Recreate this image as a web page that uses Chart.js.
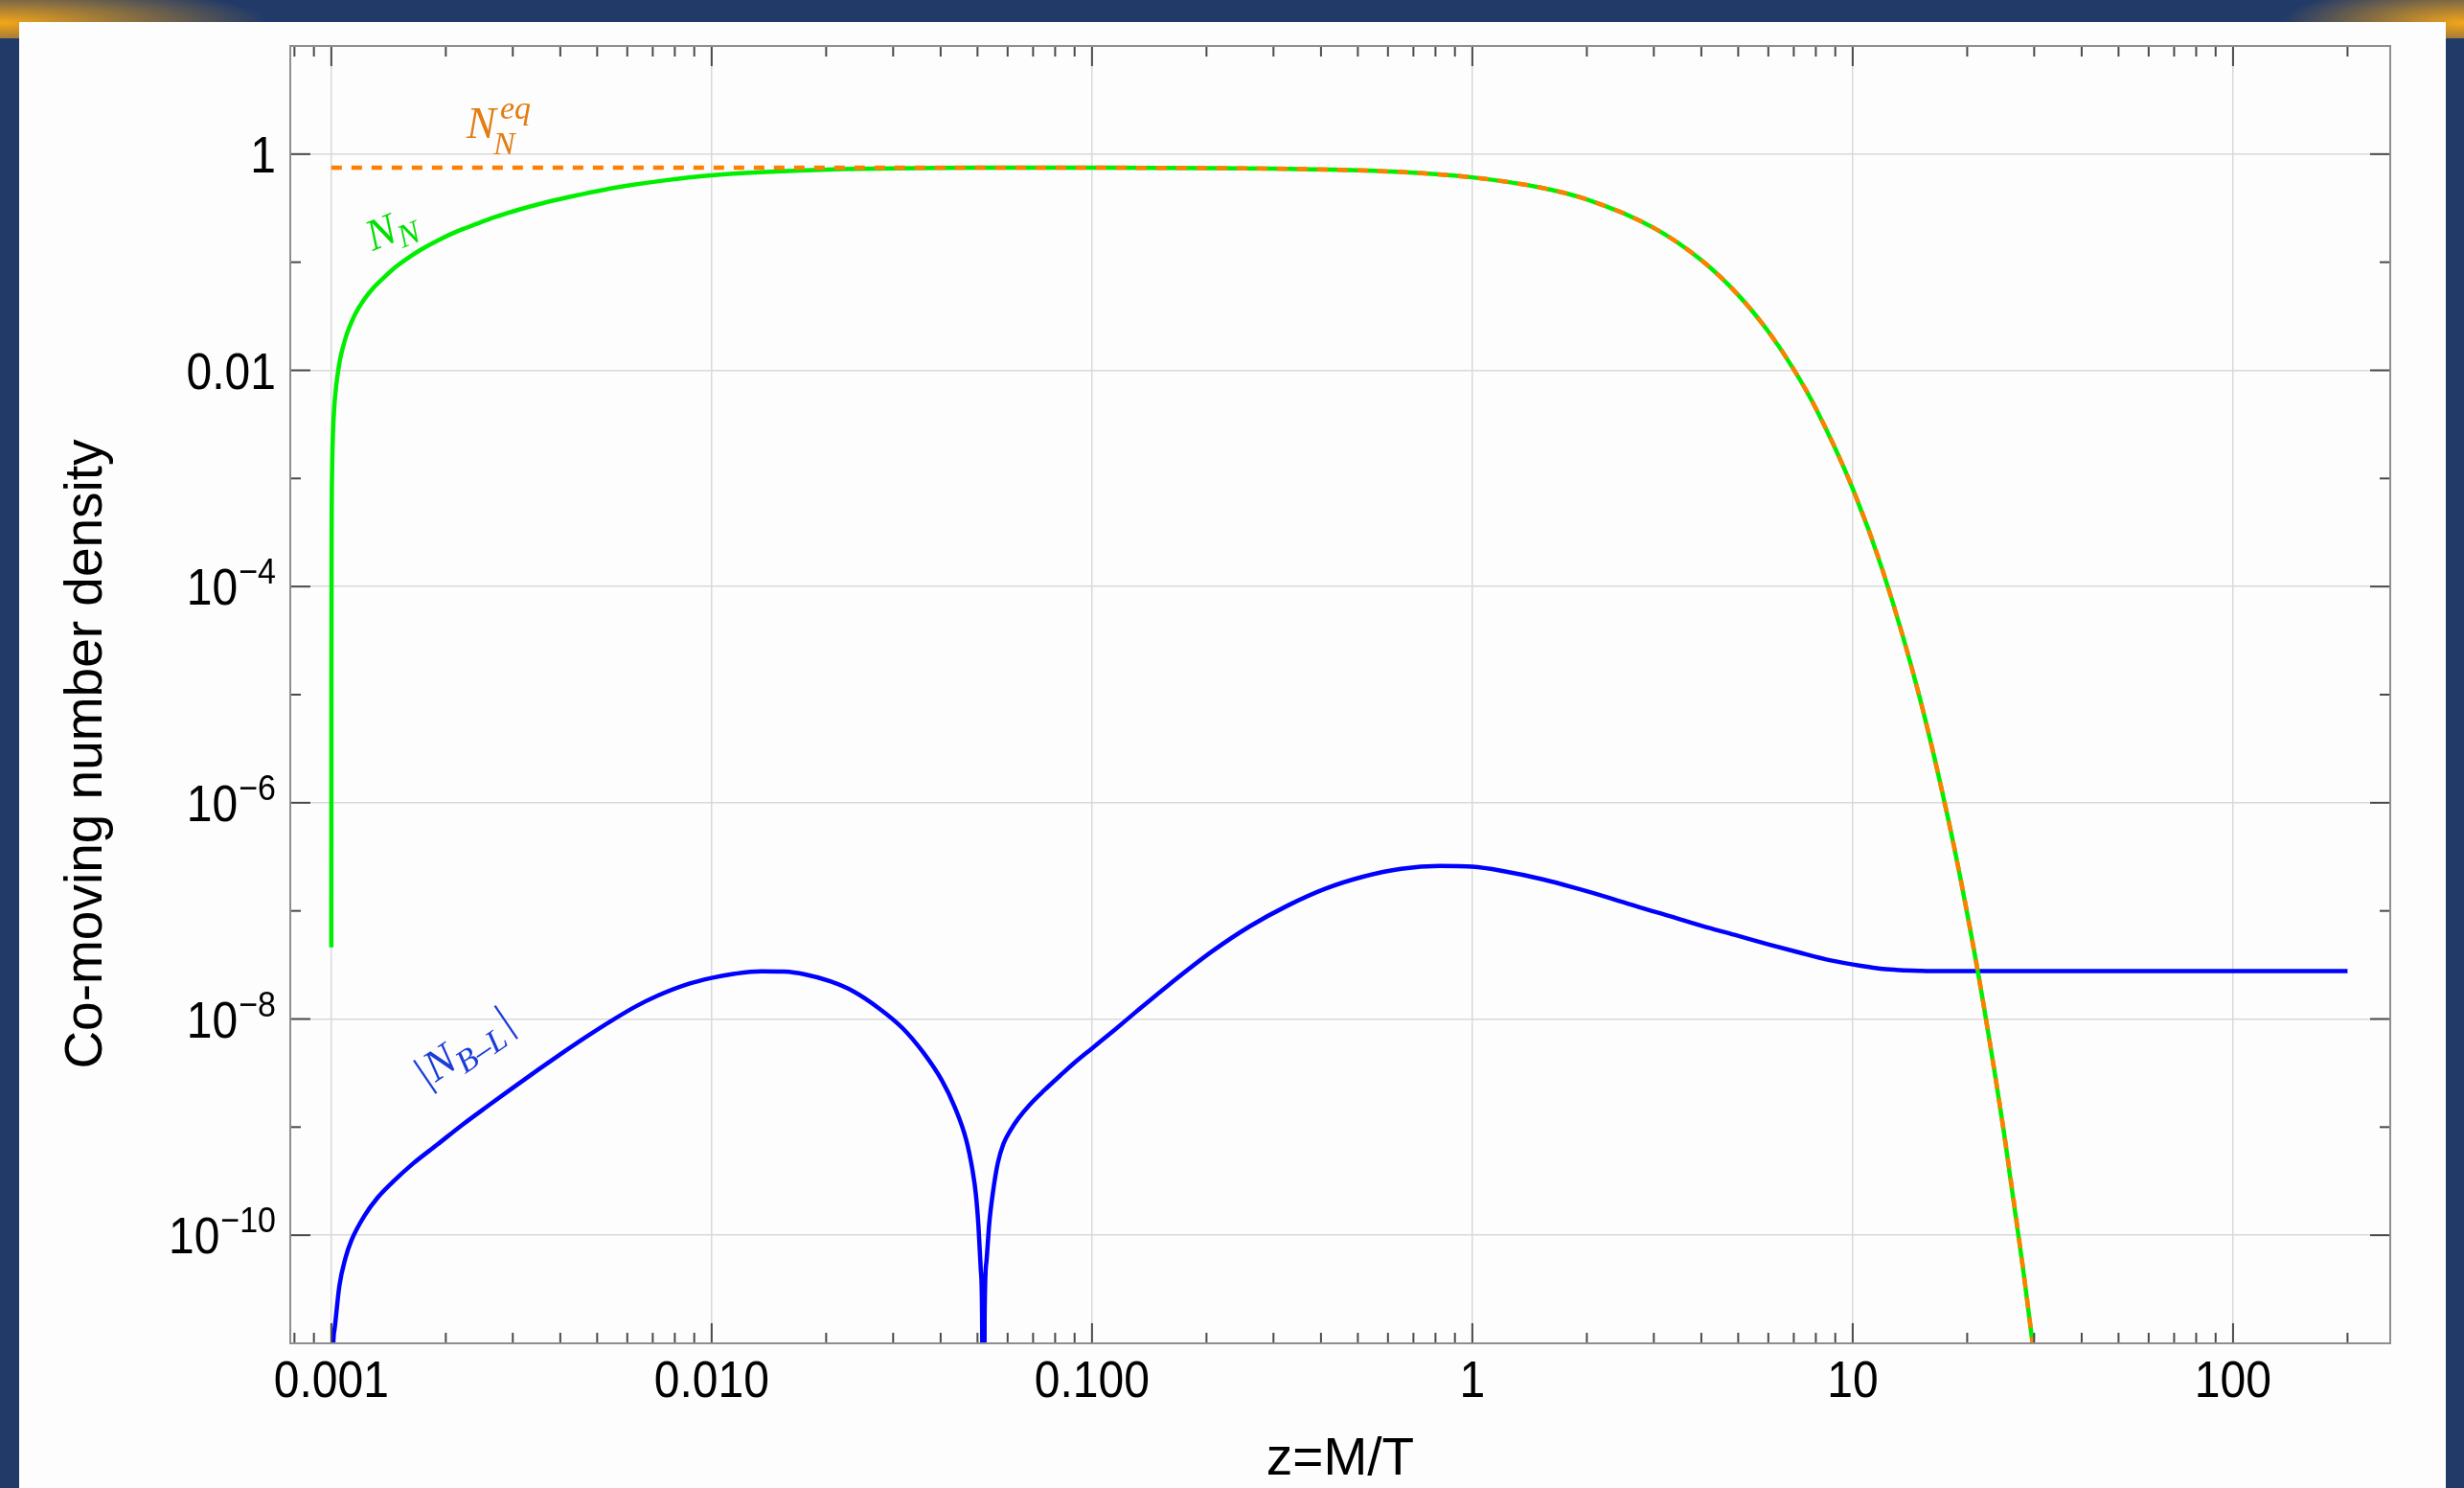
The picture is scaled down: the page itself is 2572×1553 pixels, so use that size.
<!DOCTYPE html>
<html>
<head>
<meta charset="utf-8">
<script src="https://cdn.jsdelivr.net/npm/chart.js@4.4.1/dist/chart.umd.min.js"></script>
<style>
  html, body { margin: 0; padding: 0; }
  body { width: 2572px; height: 1553px; overflow: hidden; position: relative; background: #223a68; }
  #glow {
    position: absolute; left: 0; top: 0; width: 2572px; height: 40px;
    background:
      radial-gradient(ellipse 280px 42px at 0px 24px, rgba(244,166,24,1) 0%, rgba(244,166,24,0.75) 25%, rgba(244,166,24,0) 100%),
      radial-gradient(ellipse 190px 42px at 2572px 24px, rgba(244,166,24,1) 0%, rgba(244,166,24,0.75) 25%, rgba(244,166,24,0) 100%);
  }
  #panel { position: absolute; left: 20px; top: 23px; width: 2533px; height: 1560px; background: #fdfdfd; }
  #plot { position: absolute; left: 0; top: 0; }
</style>
</head>
<body>
<div id="glow"></div>
<div id="panel"></div>
<canvas id="plot" width="2572" height="1553"></canvas>
<script>
// equilibrium abundance N_N^eq (orange dashed)
const zEq = [0.001, 0.01, 0.05, 0.1, 0.2, 0.3, 0.5, 0.7, 1, 1.5, 2, 3, 4, 5, 6, 7, 8, 10, 12, 15, 18, 20, 22, 25, 28, 30, 32];
const nEq = [0.75, 0.75, 0.7495, 0.7481, 0.7427, 0.734, 0.708, 0.673, 0.609, 0.4925, 0.3806, 0.2076, 0.1044, 0.04977, 0.02284,
  0.01019, 0.004448, 8.066e-4, 1.395e-4, 9.426e-6, 6.049e-7, 9.494e-8, 1.470e-8, 8.781e-10, 5.142e-11, 7.685e-12, 1.141e-12];

// heavy neutrino abundance N_N (green)
const zN = [0.001, 0.0010005, 0.001002, 0.001005, 0.00101, 0.00102, 0.00103, 0.001045, 0.00106, 0.00108, 0.0011, 0.00113,
  0.00116, 0.0012, 0.00125, 0.0013, 0.00138, 0.00148, 0.0016, 0.00173, 0.0019, 0.00215, 0.0024, 0.0027, 0.0031, 0.0036,
  0.0042, 0.005, 0.006, 0.0075, 0.01, 0.013, 0.017, 0.022, 0.03, 0.04, 0.05, 0.07,
  0.1, 0.2, 0.3, 0.5, 0.7, 1, 1.5, 2, 3, 4, 5, 6, 7, 8, 10, 12, 15, 18, 20, 22, 25, 28, 30, 32];
const nN = [4.6e-8, 1e-5, 3e-4, 1.2e-3, 2.6e-3, 5.0e-3, 7.2e-3, 0.0105, 0.0138, 0.0178, 0.022, 0.028,
  0.034, 0.0415, 0.0507, 0.0597, 0.073, 0.091, 0.111, 0.132, 0.158, 0.194, 0.225, 0.262, 0.305, 0.352,
  0.4, 0.455, 0.51, 0.57, 0.635, 0.675, 0.705, 0.725, 0.738, 0.745, 0.748, 0.749,
  0.7481, 0.7427, 0.734, 0.708, 0.673, 0.609, 0.4925, 0.3806, 0.2076, 0.1044, 0.04977, 0.02284, 0.01019, 0.004448,
  8.066e-4, 1.395e-4, 9.426e-6, 6.049e-7, 9.494e-8, 1.470e-8, 8.781e-10, 5.142e-11, 7.685e-12, 1.141e-12];

// lepton asymmetry |N_B-L| (blue)
const zBL = [0.001, 0.001005, 0.00102, 0.00105, 0.00109, 0.00113, 0.00122, 0.00132, 0.00145, 0.00164, 0.0019, 0.00221,
  0.0026, 0.00297, 0.0035, 0.004, 0.0047, 0.0054, 0.0063, 0.0072, 0.0085, 0.01, 0.0115, 0.0135, 0.0155, 0.0176, 0.0205,
  0.0236, 0.0275, 0.0318, 0.036, 0.0403, 0.0435, 0.0467, 0.0485, 0.0495, 0.0503, 0.051, 0.0514, 0.0518,
  0.0522, 0.0528, 0.0537, 0.0549, 0.0565, 0.0585, 0.061, 0.064, 0.0687, 0.075, 0.0825, 0.09, 0.1, 0.115, 0.13, 0.16,
  0.2065, 0.26, 0.327, 0.41, 0.516, 0.65, 0.82, 1.0, 1.2, 1.54, 1.9, 2.26, 2.75, 3.32, 4.0, 4.89, 6.0, 7.18, 8.7, 10.5,
  12, 13.3, 15, 16.8, 20, 50, 100, 200];
const nBL = [1e-14, 3.4e-12, 1.36e-11, 3.4e-11, 6.2e-11, 9.0e-11, 1.5e-10, 2.2e-10, 3.1e-10, 4.6e-10, 6.9e-10, 1.05e-9,
  1.6e-9, 2.25e-9, 3.4e-9, 4.71e-9, 6.9e-9, 9.43e-9, 1.3e-8, 1.64e-8, 2.06e-8, 2.4e-8, 2.62e-8, 2.76e-8, 2.74e-8, 2.58e-8, 2.23e-8,
  1.8e-8, 1.26e-8, 8.2e-9, 4.9e-9, 2.7e-9, 1.55e-9, 7.6e-10, 4.0e-10, 2.4e-10, 1.2e-10, 4.8e-11, 1.9e-11, 1e-14,
  1.8e-11, 5.8e-11, 1.3e-10, 2.5e-10, 4.6e-10, 7.0e-10, 9.3e-10, 1.2e-9, 1.62e-9, 2.2e-9, 3.0e-9, 3.95e-9, 5.35e-9, 8.0e-9, 1.15e-8, 2.1e-8,
  4.2e-8, 7.2e-8, 1.12e-7, 1.6e-7, 2.07e-7, 2.45e-7, 2.6e-7, 2.56e-7, 2.34e-7, 1.95e-7, 1.6e-7, 1.34e-7, 1.08e-7, 8.9e-8, 7.3e-8, 6.0e-8, 4.9e-8, 4.15e-8, 3.5e-8, 3.1e-8,
  2.9e-8, 2.83e-8, 2.79e-8, 2.77e-8, 2.77e-8, 2.77e-8, 2.77e-8, 2.77e-8];

// axes
const xMajorTicks = [0.001, 0.01, 0.1, 1, 10, 100];
const xTickLabels = ['0.001', '0.010', '0.100', '1', '10', '100'];
const xMinorTicks = [0.0008, 0.0009,
  0.002, 0.003, 0.004, 0.005, 0.006, 0.007, 0.008, 0.009,
  0.02, 0.03, 0.04, 0.05, 0.06, 0.07, 0.08, 0.09,
  0.2, 0.3, 0.4, 0.5, 0.6, 0.7, 0.8, 0.9,
  2, 3, 4, 5, 6, 7, 8, 9,
  20, 30, 40, 50, 60, 70, 80, 90, 200];
const yMajorTicks = [1, 0.01, 1e-4, 1e-6, 1e-8, 1e-10];
const yTickBase = ['1', '0.01', '10', '10', '10', '10'];
const yTickExp = ['', '', '\u22124', '\u22126', '\u22128', '\u221210'];
const yMinorTicks = [0.1, 1e-3, 1e-5, 1e-7, 1e-9];

const xTitle = 'z=M/T';
const yTitle = 'Co-moving number density';

const pts = (xs, ys) => xs.map((x, i) => ({ x, y: ys[i] }));

const SANS = '"Liberation Sans", Arial, sans-serif';
const SERIF = '"Liberation Serif", "Times New Roman", serif';
const TALL = 1.1; // tick labels in the reference are slightly taller than Liberation Sans

const decorPlugin = {
  id: 'decor',
  afterDraw(chart) {
    const { ctx, chartArea: a, scales: { x, y } } = chart;
    ctx.save();

    // frame ticks, pointing inward on all four sides
    ctx.strokeStyle = '#4a4a4a';
    ctx.lineWidth = 2;
    const seg = (x1, y1, x2, y2) => { ctx.beginPath(); ctx.moveTo(x1, y1); ctx.lineTo(x2, y2); ctx.stroke(); };
    const xt = (v, len) => {
      const px = x.getPixelForValue(v);
      seg(px, a.bottom, px, a.bottom - len);
      seg(px, a.top, px, a.top + len);
    };
    const yt = (v, len) => {
      const py = y.getPixelForValue(v);
      seg(a.left, py, a.left + len, py);
      seg(a.right, py, a.right - len, py);
    };
    xMajorTicks.forEach(v => xt(v, 21));
    xMinorTicks.forEach(v => xt(v, 11));
    yMajorTicks.forEach(v => yt(v, 21));
    yMinorTicks.forEach(v => yt(v, 11));

    // frame
    ctx.strokeStyle = '#8f8f8f';
    ctx.lineWidth = 2;
    ctx.strokeRect(a.left, a.top, a.right - a.left, a.bottom - a.top);

    // tick labels
    ctx.fillStyle = '#000';
    ctx.textBaseline = 'alphabetic';
    const tallText = (txt, px, py) => {
      ctx.save();
      ctx.translate(px, py);
      ctx.scale(1, TALL);
      ctx.fillText(txt, 0, 0);
      ctx.restore();
    };
    ctx.font = '48px ' + SANS;
    ctx.textAlign = 'center';
    xMajorTicks.forEach((v, i) => tallText(xTickLabels[i], x.getPixelForValue(v), 1458));

    ctx.textAlign = 'right';
    const yRight = 288;
    yMajorTicks.forEach((v, i) => {
      const py = y.getPixelForValue(v) + 19;
      let right = yRight;
      if (yTickExp[i]) {
        ctx.font = '34px ' + SANS;
        tallText(yTickExp[i], right, py - 22);
        right -= ctx.measureText(yTickExp[i]).width + 1;
      }
      ctx.font = '48px ' + SANS;
      tallText(yTickBase[i], right, py);
    });

    // axis titles
    ctx.font = '55px ' + SANS;
    ctx.textAlign = 'center';
    ctx.fillText(xTitle, (a.left + a.right) / 2, 1539);
    ctx.save();
    ctx.translate(106, 787);
    ctx.rotate(-Math.PI / 2);
    ctx.fillText(yTitle, 0, 0);
    ctx.restore();

    // curve labels
    ctx.textAlign = 'left';
    // N_N^eq
    ctx.fillStyle = '#e27d12';
    ctx.font = 'italic 46px ' + SERIF;
    ctx.fillText('N', 487, 144);
    ctx.font = 'italic 34px ' + SERIF;
    ctx.fillText('N', 515, 161);
    ctx.fillText('eq', 522, 124);

    // N_N
    ctx.save();
    ctx.fillStyle = '#00e000';
    ctx.translate(389, 262);
    ctx.rotate(-22 * Math.PI / 180);
    ctx.font = 'italic 46px ' + SERIF;
    ctx.fillText('N', 0, 0);
    ctx.font = 'italic 34px ' + SERIF;
    ctx.fillText('N', 30, 9);
    ctx.restore();

    // |N_B-L|
    ctx.save();
    ctx.fillStyle = '#1c3cd8';
    ctx.translate(444, 1137);
    ctx.rotate(-34 * Math.PI / 180);
    ctx.font = 'italic 46px ' + SERIF;
    ctx.fillText('|', 0, 0);
    ctx.fillText('N', 13, 0);
    ctx.font = 'italic 34px ' + SERIF;
    ctx.fillText('B\u2013L', 43, 10);
    ctx.font = 'italic 46px ' + SERIF;
    ctx.fillText('|', 102, 0);
    ctx.restore();

    ctx.restore();
  }
};

const lineStyle = {
  pointRadius: 0,
  borderWidth: 4.5,
  fill: false,
  cubicInterpolationMode: 'monotone',
  clip: 0
};

const ctx = document.getElementById('plot').getContext('2d');
const chart = new Chart(ctx, {
  type: 'line',
  data: {
    datasets: [
      { ...lineStyle, label: 'N_N^eq', data: pts(zEq, nEq), borderColor: '#ff7f00', borderDash: [11, 10] },
      { ...lineStyle, label: 'N_N', data: pts(zN, nN), borderColor: '#00ee00' },
      { ...lineStyle, label: '|N_B-L|', data: pts(zBL, nBL), borderColor: '#0000ff' }
    ]
  },
  options: {
    responsive: false,
    animation: false,
    events: [],
    layout: { padding: { left: 303, right: 77, top: 48, bottom: 151 } },
    plugins: { legend: { display: false }, tooltip: { enabled: false } },
    scales: {
      x: {
        type: 'logarithmic',
        min: 0.00078,
        max: 259,
        afterBuildTicks: s => { s.ticks = xMajorTicks.map(v => ({ value: v })); },
        afterFit: s => { s.height = 0; },
        ticks: { display: false },
        grid: { color: '#d9d9d9', lineWidth: 1.5, drawTicks: false },
        border: { display: false }
      },
      y: {
        type: 'logarithmic',
        min: 1e-11,
        max: 10,
        afterBuildTicks: s => { s.ticks = yMajorTicks.map(v => ({ value: v })); },
        afterFit: s => { s.width = 0; },
        ticks: { display: false },
        grid: { color: '#d9d9d9', lineWidth: 1.5, drawTicks: false },
        border: { display: false }
      }
    }
  },
  plugins: [decorPlugin]
});
</script>
</body>
</html>
